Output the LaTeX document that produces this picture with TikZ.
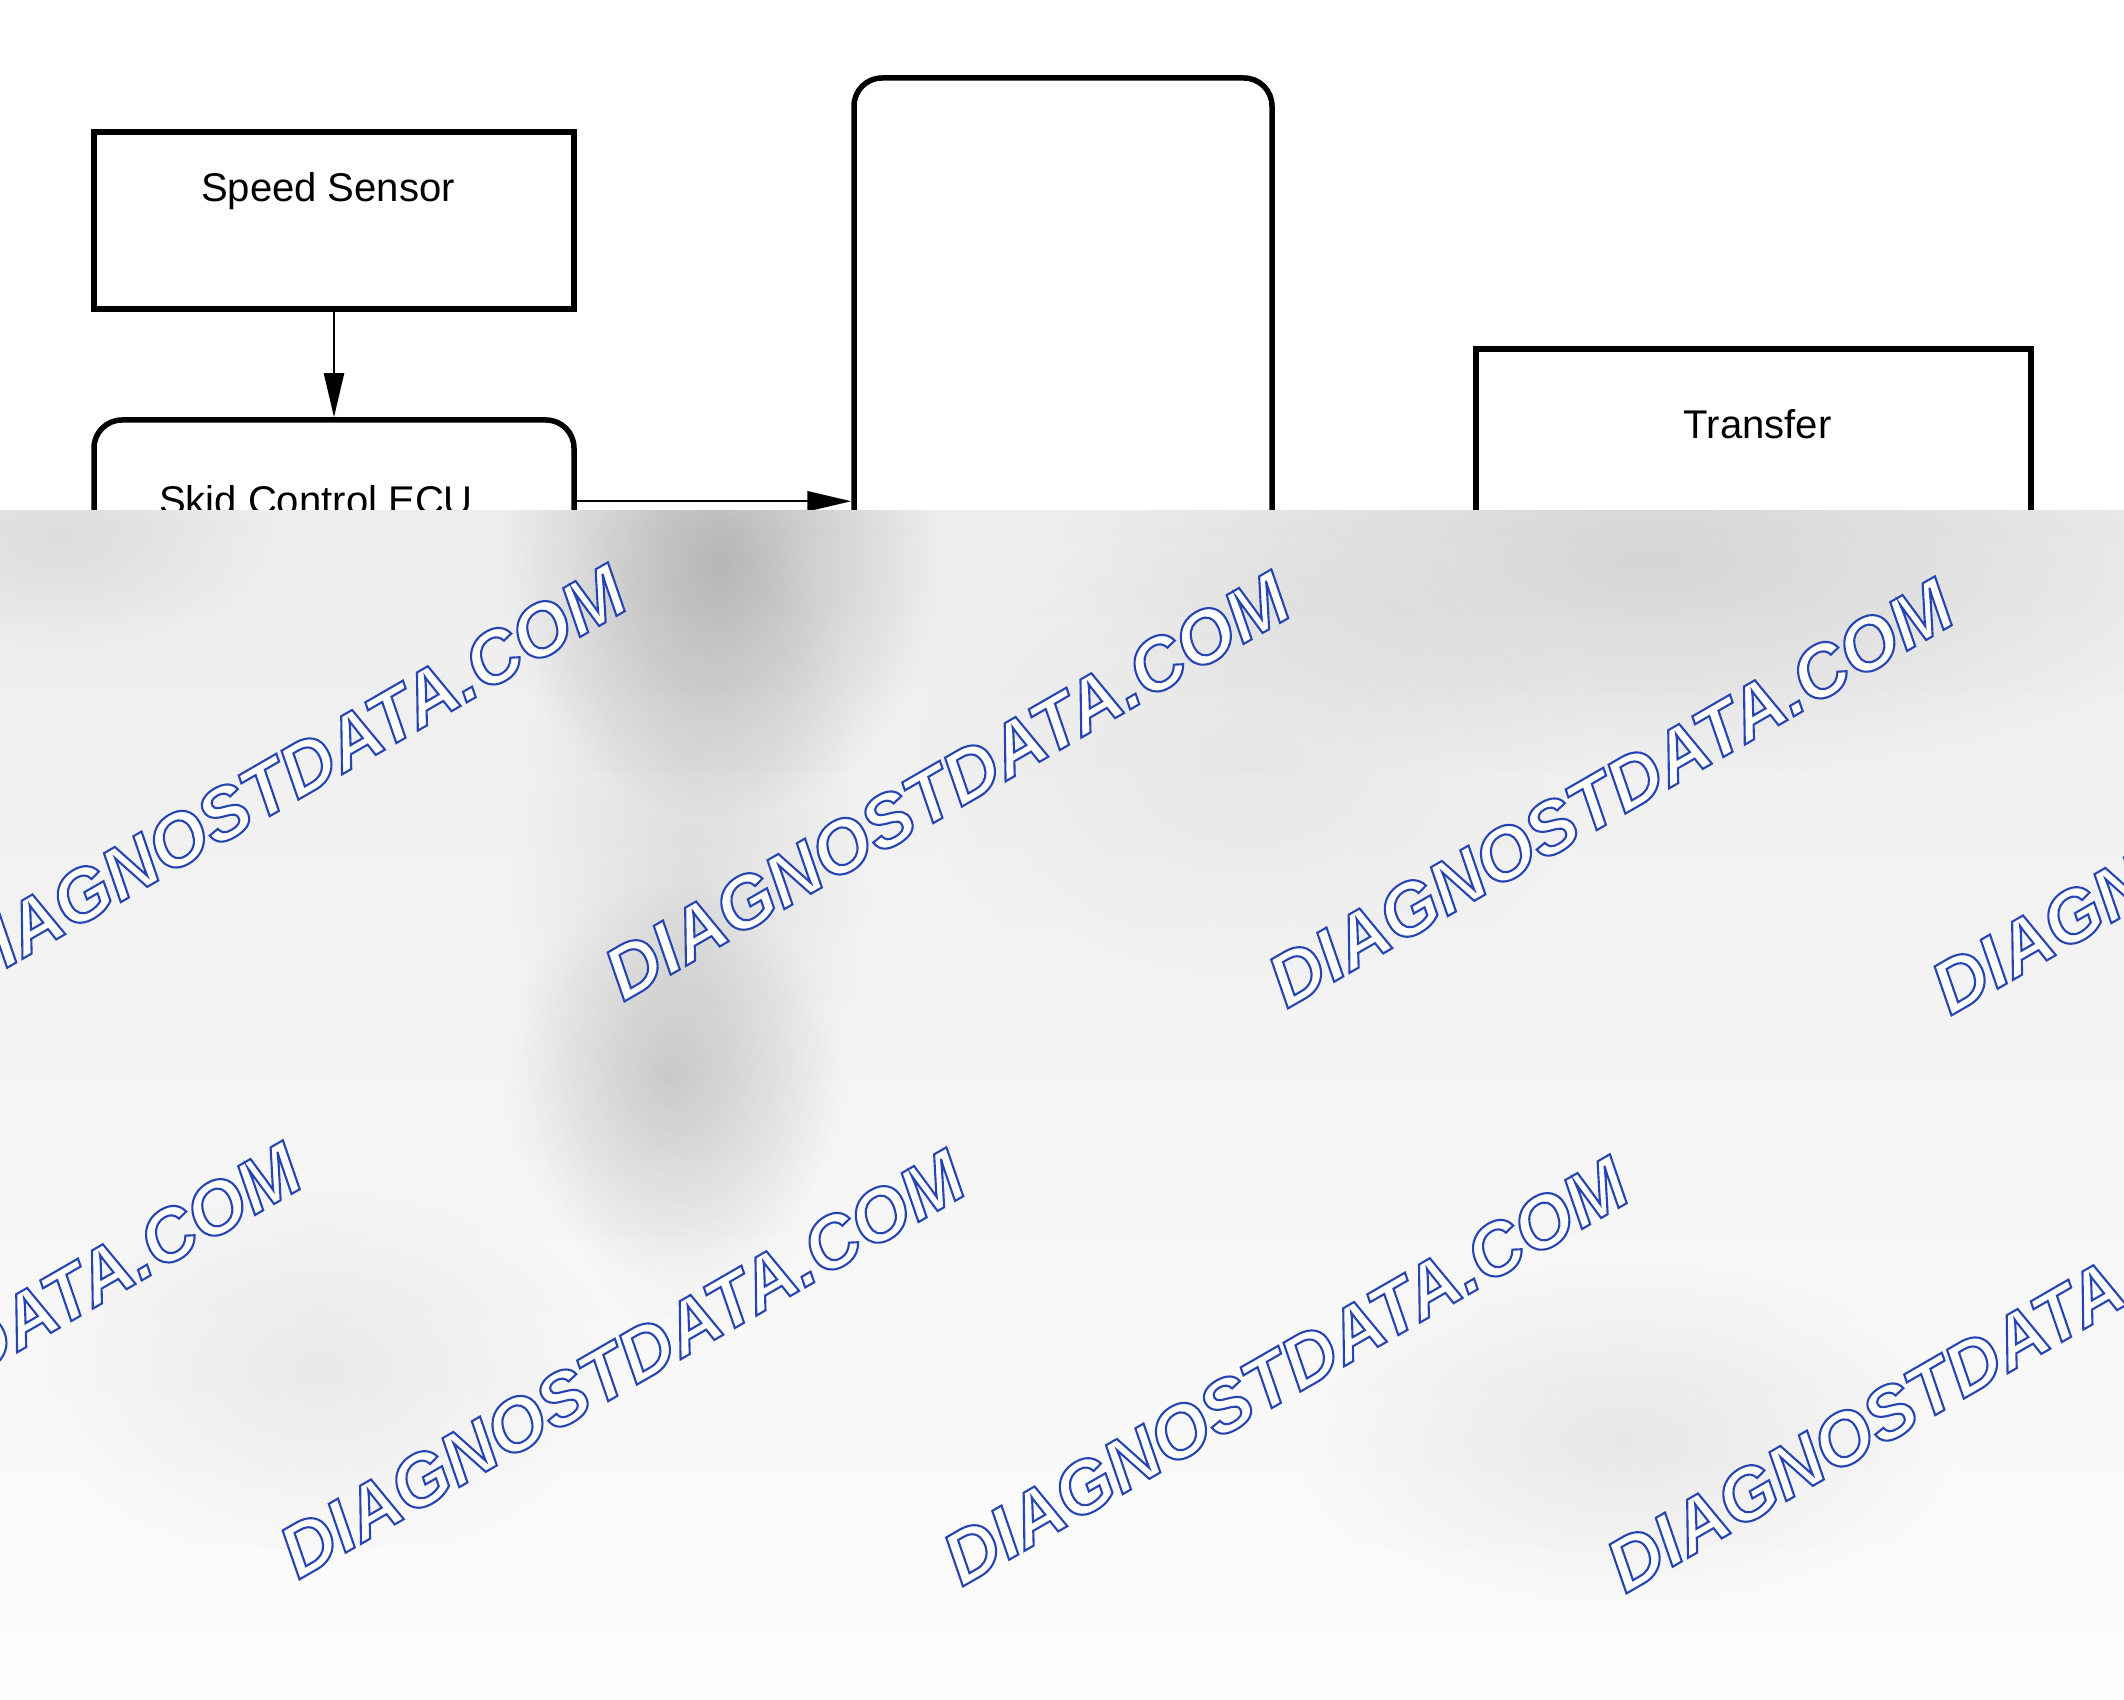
\documentclass[tikz,border=0pt]{standalone}
\usepackage{fontspec}
\setmainfont{Liberation Sans}
\newfontfamily\wmfont{Liberation Sans}
\usepackage{tikz}
\usetikzlibrary{positioning}
\usetikzlibrary{calc}
\usetikzlibrary{fadings}
\usetikzlibrary{arrows.meta}
\definecolor{wmblue}{RGB}{38,68,178}
\tikzfading[name=blob, inner color=transparent!0, outer color=transparent!100]
\newcommand\outlinetext[1]{\special{pdf:literal direct 1 Tr}#1\special{pdf:literal direct 0 Tr}}
\newcommand\wmtext{DIAGNOSTDATA.COM}

\begin{document}
\begin{tikzpicture}[x=0.1mm, y=-0.1mm, font=\fontsize{11.4}{13}\selectfont,
	bx/.style={draw, line width=0.55mm, minimum width=48mm, inner sep=0pt},
	rbx/.style={bx, rounded corners=2.8mm},
	lbl/.style={anchor=base, inner sep=0pt},
	arr/.style={line width=0.22mm, -{Triangle[length=4.4mm, width=2mm]}},
	wm/.style={anchor=base, rotate=30, inner sep=0pt, line width=0.6pt, text=wmblue,
		font=\wmfont\bfseries\itshape\fontsize{21}{24}\selectfont}]
\useasboundingbox (0,0) rectangle (2124,1700);

% blocks
\node (sensor) at (334,220.5) [bx, minimum height=17.7mm] {};
\node (ecu) at (334,590) [rbx, minimum height=34mm] {};
\node (ctrl) at (1063,540) [rbx, minimum width=41.8mm, minimum height=92.4mm] {};
\node (xfer) at (1753.5,555) [bx, minimum width=55.5mm, minimum height=41.2mm] {};

\node (sensorlbl) at ($(sensor.north)+(-6,72)$) [lbl] {Speed Sensor};
\node (eculbl) at ($(ecu.north)+(-18,97)$) [lbl] {Skid Control ECU};
\node (xferlbl) at ($(xfer.north)+(4,92)$) [lbl] {Transfer};

\draw[arr] (sensor) -- (ecu);
\coordinate (ecuout) at ($(ecu.north east)+(0,84)$);
\draw[arr] (ecuout) -- (ecuout -| ctrl.west);

% grey cover with marks
\begin{scope}
\clip (0,510.7) rectangle (2124,1700);
\shade[top color=gray!14, bottom color=gray!2] (0,510.7) rectangle (2124,1700);
\foreach \cx/\cy/\rx/\ry/\op in {720/560/22/26/0.22, 690/900/18/45/0.08, 670/1080/17/20/0.13,
	320/1370/30/20/0.06, 1625/1440/34/18/0.07, 1650/560/60/22/0.10, 60/540/22/12/0.07, 1250/760/35/25/0.04} {
\fill[black, opacity=\op, path fading=blob] (\cx,\cy) ellipse (\rx mm and \ry mm);
}
\foreach \i in {0,...,3} {
\node (wma\i) at ({296+663.5*\i},{801+7*\i}) [wm] {\rlap{\color{white}\wmtext}\outlinetext{\wmtext}};
\node (wmb\i) at ({-29+663.5*\i},{1379+7*\i}) [wm] {\rlap{\color{white}\wmtext}\outlinetext{\wmtext}};
}
\end{scope}
\end{tikzpicture}
\end{document}
